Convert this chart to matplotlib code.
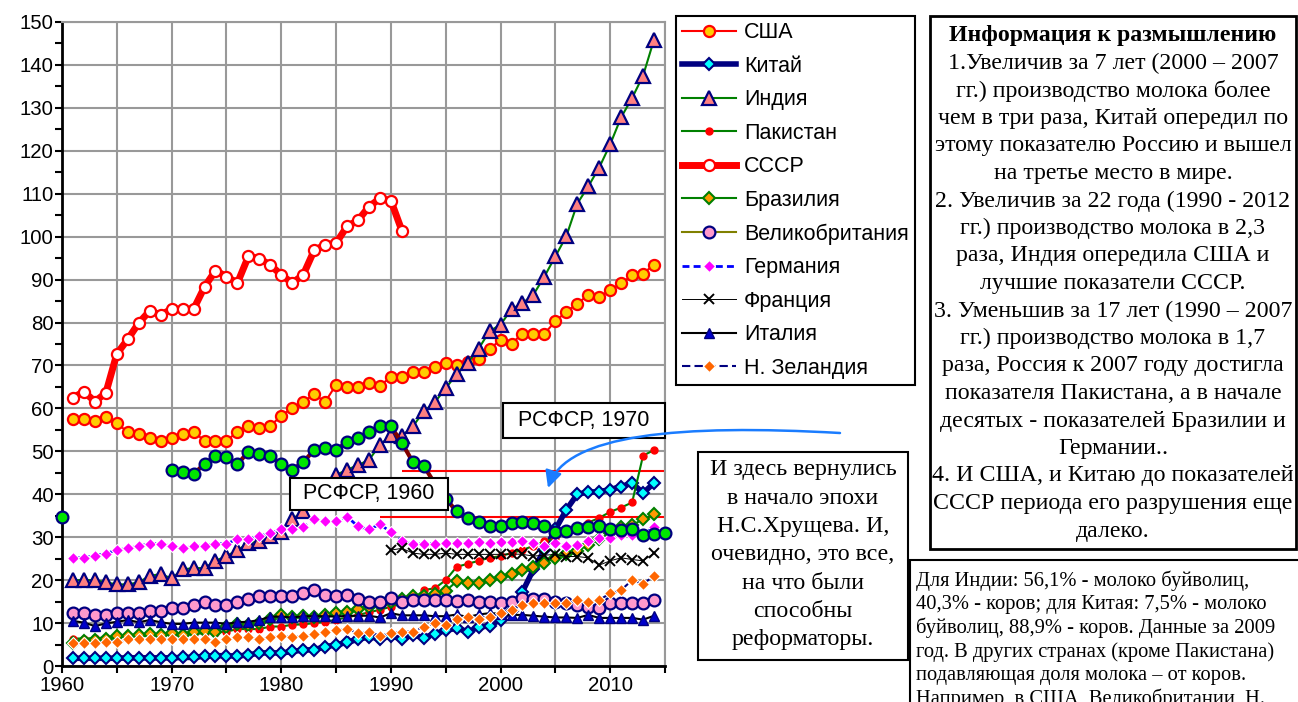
import numpy as np
import matplotlib
matplotlib.use('Agg')
import matplotlib.pyplot as plt
from matplotlib.patches import Rectangle, FancyArrowPatch
from matplotlib.path import Path
from matplotlib.ticker import MultipleLocator

plt.rcParams['font.family'] = ['Liberation Sans', 'DejaVu Sans']

# ---------------- data (million tonnes of milk) ----------------
years = np.arange(1961, 2015)

usa = [57.5, 57.5, 57.0, 58.0, 56.5, 54.5, 54.0, 53.0, 52.5, 53.0,
       54.0, 54.5, 52.5, 52.5, 52.5, 54.5, 56.0, 55.5, 56.0, 58.2,
       60.2, 61.5, 63.3, 61.5, 65.5, 65.0, 65.0, 65.8, 65.3, 67.3,
       67.3, 68.5, 68.5, 69.7, 70.5, 70.0, 70.8, 71.4, 73.8, 76.0,
       75.1, 77.4, 77.4, 77.4, 80.3, 82.5, 84.4, 86.4, 85.9, 87.6,
       89.1, 91.0, 91.4, 93.5]

china = [1.8, 1.8, 1.8, 1.8, 1.8, 1.9, 1.9, 1.9, 1.9, 1.9,
         2.0, 2.0, 2.3, 2.4, 2.4, 2.3, 2.6, 3.0, 3.1, 3.0,
         3.4, 3.7, 3.8, 4.5, 4.9, 5.5, 6.2, 6.8, 6.4, 6.9,
         6.4, 7.2, 6.6, 7.5, 8.3, 8.8, 8.0, 9.0, 9.4, 10.8,
         12.8, 17.3, 22.5, 27.0, 31.8, 36.4, 40.0, 40.5, 40.6, 41.1,
         41.8, 42.6, 40.3, 42.6]

india = [20.0, 20.0, 20.0, 19.5, 19.0, 19.0, 19.5, 21.0, 21.4, 20.4,
         22.5, 22.8, 22.8, 24.5, 25.6, 27.0, 28.6, 29.1, 30.3, 31.3,
         34.2, 36.0, 38.5, 41.5, 44.5, 45.7, 46.8, 48.0, 51.5, 53.7,
         53.6, 55.8, 59.3, 61.4, 64.7, 68.0, 70.6, 73.9, 78.0, 79.5,
         83.1, 84.5, 86.5, 90.7, 95.4, 100.1, 107.7, 111.7, 116.1, 121.5,
         127.8, 132.3, 137.5, 145.9]

pakistan = [6.4, 6.4, 6.5, 6.6, 6.7, 6.8, 6.9, 7.0, 7.1, 7.3,
            7.4, 7.5, 7.6, 7.8, 8.0, 8.6, 8.6, 8.6, 9.2, 9.2,
            9.6, 9.7, 10.0, 10.3, 10.8, 11.3, 11.9, 12.5, 13.1, 13.8,
            14.5, 15.5, 17.7, 18.1, 20.0, 23.1, 23.8, 24.5, 25.2, 25.6,
            26.3, 27.0, 28.0, 29.0, 29.8, 31.7, 32.6, 33.4, 34.5, 35.9,
            36.9, 38.1, 49.0, 50.3]

ussr_years = np.arange(1961, 1992)
ussr = [62.5, 63.9, 61.6, 63.6, 72.7, 76.1, 79.9, 82.7, 81.8, 83.1,
        83.1, 83.1, 88.3, 92.1, 90.7, 89.2, 95.4, 94.9, 93.4, 91.1,
        89.2, 91.1, 96.8, 98.1, 98.5, 102.4, 103.8, 107.0, 108.9, 108.4,
        101.4]

brazil = [5.3, 5.8, 6.0, 6.4, 7.0, 6.9, 7.2, 7.5, 7.3, 7.6,
          7.3, 8.0, 8.2, 8.0, 9.0, 9.8, 9.6, 9.9, 10.9, 11.8,
          11.4, 11.6, 11.4, 11.8, 12.3, 12.5, 13.2, 13.8, 14.3, 15.0,
          15.6, 16.2, 16.2, 16.8, 17.5, 19.7, 19.3, 19.3, 20.0, 20.8,
          21.5, 22.4, 23.1, 24.0, 25.2, 26.2, 26.8, 28.2, 29.5, 31.0,
          32.4, 32.8, 34.2, 35.3]

uk = [12.4, 12.4, 11.9, 11.9, 12.4, 12.4, 12.4, 12.8, 12.8, 13.4,
      13.4, 14.2, 14.8, 14.2, 14.2, 14.8, 15.6, 16.2, 16.2, 16.2,
      16.2, 17.1, 17.7, 16.6, 16.2, 16.6, 15.6, 15.0, 15.0, 15.8,
      15.0, 15.4, 15.4, 15.4, 15.4, 15.2, 15.4, 15.0, 15.0, 14.6,
      15.0, 15.8, 15.6, 15.6, 15.0, 14.6, 14.2, 13.8, 13.5, 14.6,
      14.6, 14.6, 14.6, 15.4]

germany = [25.2, 25.2, 25.7, 26.2, 27.0, 27.4, 27.9, 28.5, 28.5, 27.9,
           27.4, 27.9, 27.9, 28.5, 28.5, 29.5, 29.5, 30.3, 30.9, 31.8,
           31.8, 32.3, 34.2, 33.7, 33.7, 34.8, 32.5, 31.8, 33.0, 31.2,
           29.2, 28.3, 28.5, 28.5, 28.6, 28.6, 28.6, 28.8, 28.6, 28.8,
           28.8, 29.0, 28.6, 28.0, 28.6, 28.0, 28.2, 29.0, 29.8, 29.8,
           30.5, 30.5, 30.8, 32.3]

france_years = np.arange(1990, 2015)
france = [27.0, 27.4, 26.3, 26.0, 26.0, 26.3, 26.0, 26.0, 26.0, 26.0,
          26.0, 26.1, 26.0, 25.6, 25.8, 26.0, 25.5, 25.5, 25.2, 23.5,
          24.5, 25.2, 24.8, 24.5, 26.3]

italy = [10.5, 10.1, 9.3, 9.9, 10.3, 10.7, 10.2, 10.7, 10.2, 9.8,
         9.8, 10.1, 10.1, 10.1, 9.8, 10.2, 10.3, 10.7, 11.5, 11.5,
         11.3, 11.6, 11.6, 11.6, 11.5, 11.7, 11.7, 11.7, 11.3, 12.3,
         11.8, 11.8, 11.8, 11.6, 11.6, 12.0, 11.4, 12.0, 12.3, 12.2,
         11.9, 11.9, 11.7, 11.5, 11.3, 11.3, 11.2, 11.9, 11.2, 11.2,
         11.2, 11.2, 10.8, 11.7]

nz = [5.3, 5.3, 5.3, 5.7, 5.7, 6.2, 6.2, 6.2, 6.4, 6.2,
      6.2, 6.2, 6.2, 5.7, 6.2, 6.7, 6.7, 6.2, 6.7, 6.9,
      6.8, 6.9, 7.4, 7.9, 8.3, 8.7, 7.6, 7.9, 7.1, 7.6,
      8.0, 8.0, 9.2, 9.9, 9.5, 11.0, 11.4, 11.0, 11.5, 12.3,
      13.1, 14.2, 14.6, 14.7, 14.6, 14.7, 15.4, 14.8, 15.4, 16.9,
      17.7, 20.0, 19.1, 21.0]

# Russia (RSFSR): 1960 value, gap 1961-1969, then 1970-2015
russia_years = np.arange(1960, 2016)
russia = [34.7] + [np.nan] * 9 + [
    45.7, 45.1, 44.7, 47.1, 48.9, 48.6, 47.0, 49.9, 49.3, 48.9,
    47.0, 45.7, 47.5, 50.3, 50.7, 50.3, 52.2, 53.1, 54.6, 55.9,
    55.8, 52.0, 47.5, 46.6, 42.5, 39.0, 36.0, 34.4, 33.6, 32.6,
    32.5, 33.3, 33.6, 33.4, 32.6, 31.2, 31.4, 32.2, 32.4, 32.6,
    31.8, 31.6, 31.8, 30.5, 30.8, 31.0]

rsfsr_1970_level = 45.5
rsfsr_1960_level = 34.7
level_1970_start, level_1960_start = 1991, 1989

labels = ['США', 'Китай', 'Индия', 'Пакистан', 'СССР', 'Бразилия',
          'Великобритания', 'Германия', 'Франция', 'Италия', 'Н. Зеландия']

info_lines = ['Информация к размышлению',
              '1.Увеличив за 7 лет (2000 – 2007',
              'гг.) производство молока более',
              'чем в три раза, Китай опередил по',
              'этому показателю Россию и вышел',
              'на третье место в мире.',
              '2. Увеличив за 22 года (1990 - 2012',
              'гг.) производство молока в 2,3',
              'раза, Индия опередила США и',
              'лучшие показатели СССР.',
              '3. Уменьшив за 17 лет (1990 – 2007',
              'гг.) производство молока в 1,7',
              'раза, Россия к 2007 году достигла',
              'показателя Пакистана, а в начале',
              'десятых - показателей Бразилии и',
              'Германии..',
              '4. И США, и Китаю до показателей',
              'СССР периода его разрушения еще',
              'далеко.']

note_lines = ['И здесь вернулись', 'в начало эпохи', 'Н.С.Хрущева. И,',
              'очевидно, это все,', 'на что были', 'способны', 'реформаторы.']

bottom_lines = ['Для Индии: 56,1% - молоко буйволиц,',
                '40,3% - коров; для Китая: 7,5% - молоко',
                'буйволиц, 88,9% - коров. Данные за 2009',
                'год. В других странах (кроме Пакистана)',
                'подавляющая доля молока – от коров.',
                'Например, в США, Великобритании, Н.']

# ---------------- figure ----------------
W, H = 1298, 702
fig = plt.figure(figsize=(W / 100, H / 100), dpi=100)


def fx(x):
    return x / W


def fy(y):
    return 1 - y / H


ax = fig.add_axes([fx(62), fy(666), (665 - 62) / W, (666 - 22) / H])

h = []
h += ax.plot(years, usa, color='red', lw=1.5, marker='o', ms=8, mfc='#FFCC00',
             mec='red', mew=1.6, label=labels[0], zorder=3)
h += ax.plot(years, china, color='#000080', lw=4, marker='D', ms=6.5, mfc='#00FFFF',
             mec='#000080', mew=1.5, label=labels[1], zorder=3)
h += ax.plot(years, india, color='#008000', lw=1.5, marker='^', ms=9.5, mfc='#FF8080',
             mec='#000080', mew=1.6, label=labels[2], zorder=3)
h += ax.plot(years, pakistan, color='#008000', lw=1.5, marker='o', ms=5, mfc='red',
             mec='red', label=labels[3], zorder=3)
h += ax.plot(ussr_years, ussr, color='red', lw=5, marker='o', ms=8, mfc='white',
             mec='red', mew=1.6, label=labels[4], zorder=3)
h += ax.plot(years, brazil, color='#008000', lw=1.5, marker='D', ms=6.5, mfc='#FF9900',
             mec='#008000', mew=1.5, label=labels[5], zorder=3)
h += ax.plot(years, uk, color='#808000', lw=1.5, marker='o', ms=8.5, mfc='#FF99CC',
             mec='#000080', mew=1.6, label=labels[6], zorder=3)
h += ax.plot(years, germany, color='#0000FF', lw=2, ls=(0, (2.5, 1.5)), marker='D', ms=6.5,
             mfc='#FF00FF', mec='white', mew=0.8, label=labels[7], zorder=3)
h += ax.plot(france_years, france, color='black', lw=0.7, marker='x', ms=7,
             mec='black', mew=1.4, label=labels[8], zorder=3)
h += ax.plot(years, italy, color='black', lw=1.5, marker='^', ms=7, mfc='#0000CC',
             mec='#000080', mew=1, label=labels[9], zorder=3)
h += ax.plot(years, nz, color='#000080', lw=1.5, ls=(0, (4, 2)), marker='D', ms=6,
             mfc='#FF6600', mec='white', mew=0.8, label=labels[10], zorder=3)
ax.plot(russia_years, russia, color='#800000', lw=3, marker='o', ms=8.5, mfc='#00E600',
        mec='#000080', mew=1.6, zorder=3.5, clip_on=False)

ax.hlines(rsfsr_1970_level, level_1970_start, 2015, color='red', lw=1.5, zorder=2.5)
ax.hlines(rsfsr_1960_level, level_1960_start, 2015, color='red', lw=1.5, zorder=2.5)

ax.set_xlim(1960, 2015)
ax.set_ylim(0, 150)
ax.xaxis.set_major_locator(MultipleLocator(10))
ax.xaxis.set_minor_locator(MultipleLocator(5))
ax.yaxis.set_major_locator(MultipleLocator(10))
ax.yaxis.set_minor_locator(MultipleLocator(5))
ax.set_xticks(range(1960, 2011, 10))
ax.grid(which='both', axis='x', color='#999999', lw=1.5, zorder=0)
ax.grid(which='major', axis='y', color='#999999', lw=1.5, zorder=0)
ax.set_axisbelow(True)
ax.tick_params(which='both', direction='out', length=5, width=1.5, color='black')
ax.tick_params(axis='y', labelsize=14.7, pad=1)
ax.tick_params(axis='x', labelsize=14.7, pad=2)
for s in ('left', 'bottom'):
    ax.spines[s].set_color('black')
    ax.spines[s].set_linewidth(2)
for s in ('top', 'right'):
    ax.spines[s].set_color('#999999')
    ax.spines[s].set_linewidth(1.5)

# legend
leg = fig.legend(handles=h, labels=labels, loc='upper left',
                 bbox_to_anchor=(fx(676), fy(16)), borderaxespad=0,
                 fancybox=False, edgecolor='black', fontsize=15.5,
                 handlelength=2.5, handletextpad=0.35, labelspacing=0.58,
                 borderpad=0.3, numpoints=1, framealpha=1)
leg.get_frame().set_linewidth(1.5)

serif = ['Liberation Serif', 'DejaVu Serif']

# info box
fig.add_artist(Rectangle((fx(930), fy(549)), (1296 - 930) / W, (549 - 16) / H,
                         transform=fig.transFigure, fc='white', ec='black', lw=2, zorder=1))
for i, line in enumerate(info_lines):
    fig.text(fx(1113), fy(36 + 27.5 * i), line, ha='center', va='center',
             fontsize=17.2, family=serif, fontweight='bold' if i == 0 else 'normal')

# bottom note box
fig.add_artist(Rectangle((fx(910), fy(705)), (1305 - 910) / W, (705 - 560) / H,
                         transform=fig.transFigure, fc='white', ec='black', lw=1.5, zorder=1))
for i, line in enumerate(bottom_lines):
    fig.text(fx(916), fy(581 + 23.6 * i), line, ha='left', va='center',
             fontsize=14.8, family=serif)

# note box in the middle
fig.add_artist(Rectangle((fx(698), fy(660)), (908 - 698) / W, (660 - 452) / H,
                         transform=fig.transFigure, fc='white', ec='black', lw=1.5, zorder=1))
for i, line in enumerate(note_lines):
    fig.text(fx(803), fy(470 + 28.3 * i), line, ha='center', va='center',
             fontsize=17.2, family=serif)

# RSFSR label boxes
for (x0, y0, x1, y1), txt in (((503, 403, 665, 438), 'РСФСР, 1970'),
                              ((290, 478, 448, 510), 'РСФСР, 1960')):
    fig.add_artist(Rectangle((fx(x0), fy(y1)), (x1 - x0) / W, (y1 - y0) / H,
                             transform=fig.transFigure, fc='white', ec='black', lw=1.5, zorder=1))
    fig.text(fx((x0 + x1) / 2), fy((y0 + y1) / 2), txt, ha='center', va='center',
             fontsize=15.5)

# curved blue arrow
verts = [(fx(840), fy(433)), (fx(680), fy(424)), (fx(566), fy(434)), (fx(548), fy(488))]
path = Path(verts, [Path.MOVETO, Path.CURVE4, Path.CURVE4, Path.CURVE4])
arrow = FancyArrowPatch(path=path, arrowstyle='-|>,head_length=0.85,head_width=0.42',
                        mutation_scale=12, color='#1a7cff', lw=1.8, zorder=2)
fig.add_artist(arrow)

fig.savefig('out.png', dpi=100)
